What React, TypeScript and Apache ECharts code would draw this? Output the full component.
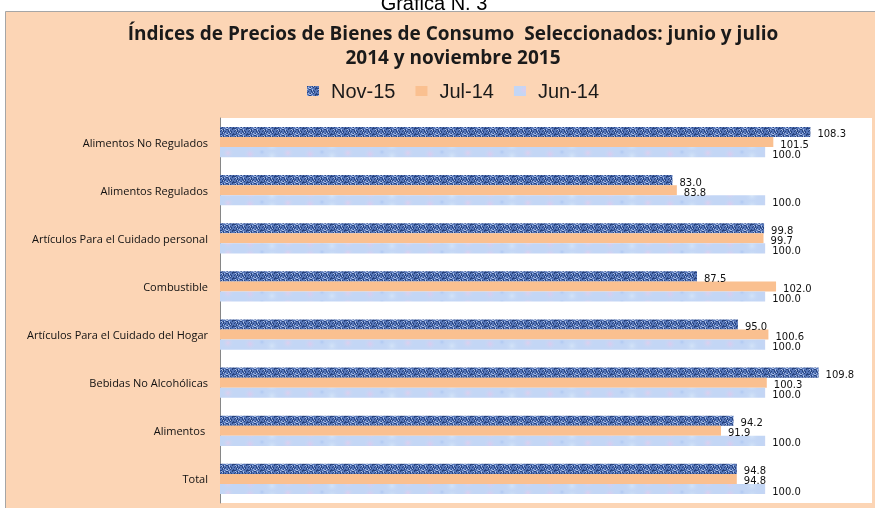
import React, { useEffect, useRef } from 'react';
import * as echarts from 'echarts';

const categories = [
  'Alimentos No Regulados',
  'Alimentos Regulados',
  'Artículos Para el Cuidado personal',
  'Combustible',
  'Artículos Para el Cuidado del Hogar',
  'Bebidas No Alcohólicas',
  'Alimentos ',
  'Total',
];
const seriesNames = ['Nov-15', 'Jul-14', 'Jun-14'];
const nov15 = [108.3, 83.0, 99.8, 87.5, 95.0, 109.8, 94.2, 94.8];
const jul14 = [101.5, 83.8, 99.7, 102.0, 100.6, 100.3, 91.9, 94.8];
const jun14 = [100.0, 100.0, 100.0, 100.0, 100.0, 100.0, 100.0, 100.0];

function makeNovPattern(): HTMLCanvasElement {
  const c = document.createElement('canvas');
  c.width = 14;
  c.height = 6;
  const g = c.getContext('2d')!;
  g.fillStyle = '#5676B8';
  g.fillRect(0, 0, 14, 6);
  for (let y = 0; y < 6; y++) {
    for (let x = 0; x < 14; x++) {
      const v = (x * 5 + y * 3 + ((x * y) % 4)) % 7;
      if (v === 0 || v === 4) {
        g.fillStyle = '#28447F';
        g.fillRect(x, y, 1, 1);
      } else if (v === 2) {
        g.fillStyle = '#A9BEE6';
        g.fillRect(x, y, 1, 1);
      }
    }
  }
  return c;
}

function blob(g: CanvasRenderingContext2D, x: number, y: number, r: number, col: string) {
  const grd = g.createRadialGradient(x, y, 0, x, y, r);
  grd.addColorStop(0, col);
  grd.addColorStop(1, 'rgba(197,216,245,0)');
  g.fillStyle = grd;
  g.fillRect(x - r, y - r, r * 2, r * 2);
}

function makeJunPattern(): HTMLCanvasElement {
  const c = document.createElement('canvas');
  c.width = 60;
  c.height = 10;
  const g = c.getContext('2d')!;
  g.fillStyle = '#C3D6F5';
  g.fillRect(0, 0, 60, 10);
  blob(g, 10, 4, 6, 'rgba(222,202,238,0.95)');
  blob(g, 32, 6, 7, 'rgba(212,228,248,0.95)');
  blob(g, 48, 3, 6, 'rgba(226,206,236,0.9)');
  blob(g, 22, 2, 4, 'rgba(172,198,242,0.95)');
  return c;
}

const FONT = 'Liberation Sans, Arial, sans-serif';

export default function App() {
  const ref = useRef<HTMLDivElement>(null);
  useEffect(() => {
    if (!ref.current) return;
    const chart = echarts.init(ref.current, null, { renderer: 'svg' });
    const novFill: any = { image: makeNovPattern(), repeat: 'repeat' };
    const junFill: any = { image: makeJunPattern(), repeat: 'repeat' };
    const label = {
      show: true,
      position: 'right' as const,
      distance: 7,
      offset: [0, 2],
      fontSize: 10,
      fontFamily: 'DejaVu Sans, Verdana, sans-serif',
      color: '#111',
      formatter: (p: any) => Number(p.value).toFixed(1),
    };
    const fills = [novFill, '#FAC090', junFill];
    const datas = [nov15, jul14, jun14];
    chart.setOption({
      animation: false,
      backgroundColor: 'transparent',
      graphic: [
        {
          type: 'rect',
          shape: { x: 5.5, y: 11.5, width: 900, height: 520 },
          style: { fill: '#FCD5B5', stroke: '#A6A6A6', lineWidth: 1 },
          z: -10,
        },
        {
          type: 'text',
          style: {
            x: 434,
            y: 12.5,
            align: 'center',
            verticalAlign: 'bottom',
            text: 'Gráfica N. 3',
            fontSize: 20,
            fontFamily: FONT,
            fill: '#000',
          },
        },
      ],
      title: {
        text: 'Índices de Precios de Bienes de Consumo  Seleccionados: junio y julio\n2014 y noviembre 2015',
        left: 448,
        textAlign: 'center',
        top: 16,
        textStyle: {
          fontSize: 19,
          fontWeight: 'bold',
          lineHeight: 24,
          color: '#1a1a1a',
          fontFamily: 'Open Sans, sans-serif',
        },
      },
      legend: {
        top: 81,
        left: 307,
        padding: 0,
        itemWidth: 12,
        itemHeight: 10,
        itemGap: 20,
        icon: 'rect',
        data: seriesNames,
        textStyle: {
          fontSize: 20,
          color: '#1a1a1a',
          fontFamily: FONT,
          padding: [0, 0, 0, 7],
        },
      },
      grid: {
        left: 220,
        right: 3,
        top: 118,
        bottom: 5,
        show: true,
        backgroundColor: '#FFFFFF',
        borderWidth: 0,
      },
      xAxis: {
        type: 'value',
        min: 0,
        max: 119.6,
        show: false,
        splitLine: { show: false },
      },
      yAxis: {
        type: 'category',
        data: categories,
        inverse: true,
        axisLine: { show: true, lineStyle: { color: '#868686', width: 1 } },
        axisTick: { show: false },
        axisLabel: {
          fontSize: 11,
          color: '#111',
          margin: 12,
          fontFamily: 'Open Sans, sans-serif',
        },
      },
      series: seriesNames.map((name, i) => ({
        name,
        type: 'bar',
        data: datas[i],
        barGap: '0%',
        barCategoryGap: '37%',
        itemStyle: { color: fills[i] },
        label,
      })),
    });
    return () => chart.dispose();
  }, []);
  return (
    <div
      ref={ref}
      style={{ position: 'fixed', left: 0, top: 0, width: 875, height: 508 }}
    />
  );
}
